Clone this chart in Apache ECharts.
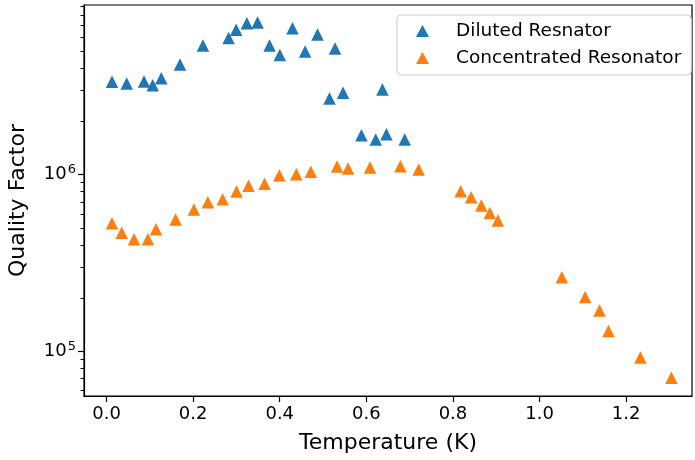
<!DOCTYPE html>
<html>
<head>
<meta charset="utf-8">
<script src="https://cdn.jsdelivr.net/npm/echarts@6/dist/echarts.min.js"></script>
<style>
  html, body { margin: 0; padding: 0; background: #fff; }
  #chart { width: 695px; height: 460px; }
</style>
</head>
<body>
<div id="chart"></div>
<script>
// Temperature (K) and quality factor for each resonator
const dilutedTemp = [0.0127, 0.0466, 0.0865, 0.1066, 0.1264, 0.1696, 0.2226, 0.2819, 0.2994, 0.3241,
  0.3488, 0.3765, 0.4002, 0.4295, 0.4586, 0.4872, 0.5278, 0.5149, 0.5463, 0.6371,
  0.5887, 0.6217, 0.6464, 0.6886];
const dilutedQ = [3.35e6, 3.28e6, 3.37e6, 3.20e6, 3.51e6, 4.20e6, 5.38e6, 5.93e6, 6.61e6, 7.18e6,
  7.26e6, 5.38e6, 4.75e6, 6.74e6, 4.97e6, 6.21e6, 5.17e6, 2.70e6, 2.91e6, 3.03e6,
  1.67e6, 1.58e6, 1.69e6, 1.58e6];

const concTemp = [0.0127, 0.0351, 0.0634, 0.0957, 0.1142, 0.1596, 0.2018, 0.2341, 0.2681, 0.3003,
  0.3280, 0.3649, 0.3991, 0.4383, 0.4717, 0.5324, 0.5578, 0.6085, 0.6787, 0.7209,
  0.8178, 0.8420, 0.8655, 0.8851, 0.9038, 1.0514, 1.1054, 1.1384, 1.1592, 1.2330, 1.3045];
const concQ = [5.30e5, 4.68e5, 4.30e5, 4.31e5, 4.91e5, 5.56e5, 6.34e5, 6.97e5, 7.25e5, 8.03e5,
  8.66e5, 8.87e5, 9.90e5, 1.005e6, 1.037e6, 1.110e6, 1.084e6, 1.098e6, 1.114e6, 1.067e6,
  8.05e5, 7.44e5, 6.68e5, 6.07e5, 5.49e5, 2.62e5, 2.03e5, 1.70e5, 1.30e5, 9.22e4, 7.09e4];

const seriesNames = ['Diluted Resnator', 'Concentrated Resonator'];
const xTicks = [0, 0.2, 0.4, 0.6, 0.8, 1.0, 1.2];
const yMajorTicks = [1e5, 1e6];
const yMinorTicks = [6e4, 7e4, 8e4, 9e4, 2e5, 3e5, 4e5, 5e5, 6e5, 7e5, 8e5, 9e5,
  2e6, 3e6, 4e6, 5e6, 6e6, 7e6, 8e6, 9e6];

const FONT = 'DejaVu Sans';
const zip = (xs, ys) => xs.map((x, i) => [x, ys[i]]);

const chart = echarts.init(document.getElementById('chart'), null, { renderer: 'canvas' });

const yBase = {
  type: 'log',
  logBase: 10,
  min: 5.58e4,
  max: 9.12e6,
  gridIndex: 0,
  position: 'left',
  splitLine: { show: false },
  minorTick: { show: false },
  minorSplitLine: { show: false }
};

chart.setOption({
  animation: false,
  backgroundColor: '#ffffff',
  textStyle: { fontFamily: FONT },
  grid: {
    left: 84, right: 3, top: 5, bottom: 64,
    containLabel: false,
    outerBoundsMode: 'none',
    show: true, borderColor: '#000', borderWidth: 1.2, backgroundColor: 'transparent'
  },
  legend: {
    orient: 'vertical',
    left: 397, top: 15,
    padding: [6, 10, 7, 19],
    itemGap: 7,
    itemWidth: 13, itemHeight: 12,
    backgroundColor: 'rgba(255,255,255,0.8)',
    borderColor: '#cccccc', borderWidth: 1, borderRadius: 4,
    data: [
      { name: seriesNames[0], icon: 'triangle' },
      { name: seriesNames[1], icon: 'triangle' }
    ],
    textStyle: { fontFamily: FONT, fontSize: 18.5, color: '#000', lineHeight: 20, padding: [0, 0, 0, 22] }
  },
  xAxis: {
    type: 'value',
    min: -0.052, max: 1.352,
    name: 'Temperature (K)',
    nameLocation: 'middle',
    nameGap: 36,
    nameTextStyle: { fontFamily: FONT, fontSize: 22, color: '#000' },
    axisLine: { show: true, onZero: false, lineStyle: { color: '#000', width: 1.2 } },
    axisTick: { show: true, length: 6, lineStyle: { color: '#000', width: 1.2 }, customValues: xTicks },
    axisLabel: {
      fontFamily: FONT, fontSize: 18, color: '#000', margin: 9,
      customValues: xTicks,
      formatter: v => v.toFixed(1)
    },
    splitLine: { show: false }
  },
  yAxis: [
    Object.assign({}, yBase, {
      name: 'Quality Factor',
      nameLocation: 'middle',
      nameGap: 55,
      nameRotate: 90,
      nameTextStyle: { fontFamily: FONT, fontSize: 22, color: '#000' },
      axisLine: { show: true, onZero: false, lineStyle: { color: '#000', width: 1.2 } },
      axisTick: { show: true, length: 6, lineStyle: { color: '#000', width: 1.2 }, customValues: yMajorTicks },
      axisLabel: {
        fontFamily: FONT, fontSize: 18, color: '#000', margin: 8,
        customValues: yMajorTicks,
        formatter: v => '10{sup|' + Math.round(Math.log10(v)) + '}',
        rich: {
          sup: { fontFamily: FONT, fontSize: 13, color: '#000', padding: [0, 0, 10, 1] }
        }
      }
    }),
    Object.assign({}, yBase, {
      axisLine: { show: false, onZero: false },
      axisTick: { show: true, length: 3.5, lineStyle: { color: '#000', width: 1 }, customValues: yMinorTicks },
      axisLabel: { show: false }
    })
  ],
  series: [
    {
      name: seriesNames[0],
      type: 'scatter',
      yAxisIndex: 0,
      symbol: 'triangle',
      symbolSize: 12.5,
      itemStyle: { color: '#1f77b4', opacity: 1 },
      data: zip(dilutedTemp, dilutedQ)
    },
    {
      name: seriesNames[1],
      type: 'scatter',
      yAxisIndex: 0,
      symbol: 'triangle',
      symbolSize: 12.5,
      itemStyle: { color: '#ff7f0e', opacity: 1 },
      data: zip(concTemp, concQ)
    }
  ]
});
</script>
</body>
</html>
